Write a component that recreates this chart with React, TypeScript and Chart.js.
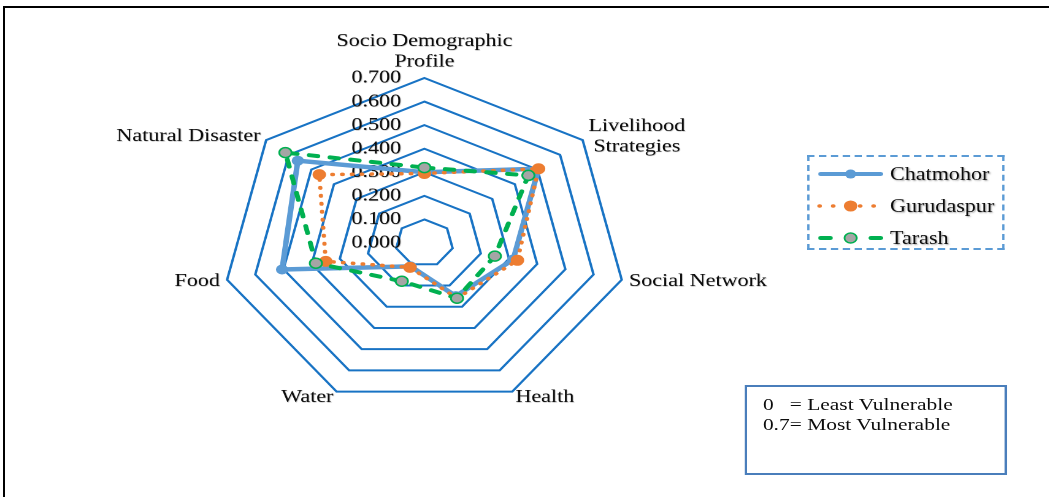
import React, { useEffect, useRef } from 'react';
import { Chart, registerables } from 'chart.js';

Chart.register(...registerables);

// ---- data ----
const CATEGORIES: (string | string[])[] = [
  ['Socio Demographic', 'Profile'],
  ['Livelihood', 'Strategies'],
  'Social Network',
  'Health',
  'Water',
  'Food',
  'Natural Disaster',
];
const SERIES_NAMES = ['Chatmohor', 'Gurudaspur', 'Tarash'];
const CHATMOHOR = [0.3, 0.505, 0.315, 0.25, 0.11, 0.505, 0.56];
const GURUDASPUR = [0.295, 0.505, 0.33, 0.26, 0.115, 0.35, 0.465];
const TARASH = [0.32, 0.46, 0.25, 0.26, 0.18, 0.385, 0.615];
const TICK_LABELS = ['0.000', '0.100', '0.200', '0.300', '0.400', '0.500', '0.600', '0.700'];
const NOTE_LINES = ['0   = Least Vulnerable', '0.7= Most Vulnerable'];

// ---- style ----
const SX = 1.2266; // horizontal stretch of the original figure
const CANVAS_W = 855;
const CANVAS_H = 497;
const FONT = '"Liberation Serif", "Times New Roman", serif';
const GRID_COLOR = '#1873c4';
const COLORS = ['#5B9BD5', '#ED7D31', '#00B050'];
const TEXT_COLOR = '#0d0d0d';
const TEXT_SHADOW = '1px 1px 1.5px rgba(0,0,0,0.35)';

function applyShadow(ctx: CanvasRenderingContext2D) {
  ctx.shadowColor = 'rgba(0,0,0,0.35)';
  ctx.shadowBlur = 1.5;
  ctx.shadowOffsetX = 1;
  ctx.shadowOffsetY = 1;
}

const labelPlugin = {
  id: 'customLabels',
  beforeDatasetsDraw(chart: any) {
    const scale = chart.scales.r;
    const ctx = chart.ctx;
    ctx.save();
    ctx.font = `18px ${FONT}`;
    ctx.fillStyle = TEXT_COLOR;
    ctx.textAlign = 'right';
    ctx.textBaseline = 'middle';
    applyShadow(ctx);
    scale.ticks.forEach((t: any, i: number) => {
      const d = scale.getDistanceFromCenterForValue(t.value);
      const txt = TICK_LABELS[i] ?? Number(t.value).toFixed(3);
      ctx.fillText(txt, scale.xCenter - 19, scale.yCenter - d);
    });
    ctx.restore();
  },
  afterDraw(chart: any) {
    const scale = chart.scales.r;
    const ctx = chart.ctx;
    const lh = 20.5;
    ctx.save();
    ctx.font = `18px ${FONT}`;
    ctx.fillStyle = TEXT_COLOR;
    ctx.textAlign = 'center';
    ctx.textBaseline = 'middle';
    applyShadow(ctx);
    CATEGORIES.forEach((lab, i) => {
      const lines = Array.isArray(lab) ? lab : [lab];
      const pos = scale.getPointPosition(i, scale.drawingArea + 6);
      const dx = pos.x - scale.xCenter;
      const maxW = Math.max(...lines.map((l) => ctx.measureText(l).width));
      let cx: number;
      let y0: number;
      if (Math.abs(dx) < 1) {
        cx = pos.x;
        y0 = pos.y - lines.length * lh + lh / 2;
      } else {
        cx = dx > 0 ? pos.x + maxW / 2 : pos.x - maxW / 2;
        y0 = pos.y - ((lines.length - 1) * lh) / 2;
      }
      lines.forEach((l, k) => ctx.fillText(l, cx, y0 + k * lh));
    });
    ctx.restore();
  },
};

function LegendSample({ idx }: { idx: number }) {
  const c = COLORS[idx];
  if (idx === 0) {
    return (
      <svg width={53} height={14} style={{ overflow: 'visible', display: 'block' }}>
        <line x1={2} y1={7} x2={51} y2={7} stroke={c} strokeWidth={4} strokeLinecap="round" />
        <circle cx={26.5} cy={7} r={4.5} fill={c} />
      </svg>
    );
  }
  if (idx === 1) {
    return (
      <svg width={53} height={14} style={{ overflow: 'visible', display: 'block' }}>
        <line x1={1} y1={7} x2={53} y2={7} stroke={c} strokeWidth={3.5} strokeLinecap="round" strokeDasharray="0.5 10.5" />
        <circle cx={26.5} cy={7} r={5.5} fill={c} />
      </svg>
    );
  }
  return (
    <svg width={53} height={14} style={{ overflow: 'visible', display: 'block' }}>
      <line x1={2} y1={7} x2={51} y2={7} stroke={c} strokeWidth={4} strokeLinecap="round" strokeDasharray="8 33" />
      <circle cx={26.5} cy={7} r={5} fill="#A5A5A5" stroke={c} strokeWidth={1.5} />
    </svg>
  );
}

export default function App() {
  const ref = useRef<HTMLCanvasElement>(null);

  useEffect(() => {
    if (!ref.current) return;
    const chart = new Chart(ref.current, {
      type: 'radar',
      data: {
        labels: CATEGORIES as any,
        datasets: [
          {
            label: SERIES_NAMES[0],
            data: CHATMOHOR,
            borderColor: COLORS[0],
            backgroundColor: COLORS[0],
            borderWidth: 4.5,
            borderJoinStyle: 'round',
            pointRadius: 4.5,
            pointBackgroundColor: COLORS[0],
            pointBorderColor: COLORS[0],
            pointBorderWidth: 1,
            fill: false,
            order: 3,
          },
          {
            label: SERIES_NAMES[1],
            data: GURUDASPUR,
            borderColor: COLORS[1],
            backgroundColor: COLORS[1],
            borderWidth: 3.5,
            borderDash: [0.5, 7.5],
            borderCapStyle: 'round',
            pointRadius: 5,
            pointBackgroundColor: COLORS[1],
            pointBorderColor: COLORS[1],
            pointBorderWidth: 1,
            fill: false,
            order: 2,
          },
          {
            label: SERIES_NAMES[2],
            data: TARASH,
            borderColor: COLORS[2],
            backgroundColor: '#A5A5A5',
            borderWidth: 4,
            borderDash: [7, 10],
            borderCapStyle: 'round',
            pointRadius: 5,
            pointBackgroundColor: '#A5A5A5',
            pointBorderColor: COLORS[2],
            pointBorderWidth: 1.5,
            fill: false,
            order: 1,
          },
        ],
      },
      options: {
        responsive: false,
        animation: false,
        devicePixelRatio: 2,
        layout: { padding: { top: 78, left: 181, right: 343, bottom: 88 } },
        plugins: { legend: { display: false }, tooltip: { enabled: false } },
        elements: { line: { tension: 0 } },
        scales: {
          r: {
            min: 0,
            max: 0.7,
            ticks: { stepSize: 0.1, display: false },
            grid: { circular: false, color: GRID_COLOR, lineWidth: 2 },
            angleLines: { display: false },
            pointLabels: { display: false },
          },
        },
      } as any,
      plugins: [labelPlugin],
    });
    return () => chart.destroy();
  }, []);

  const legendRows = [174, 206, 238];
  const legendLeft = 807 / SX;
  const legendTop = 155;

  return (
    <div style={{ position: 'absolute', left: 0, top: 0, width: 1049, height: 497, background: '#fff', overflow: 'hidden' }}>
      <div
        style={{
          position: 'absolute', left: 3, top: 6, width: 1046, height: 491,
          borderTop: '2px solid #000', borderLeft: '2px solid #000', boxSizing: 'border-box',
        }}
      />
      <div
        style={{
          position: 'absolute', left: 0, top: 0, width: CANVAS_W, height: CANVAS_H,
          transform: `scaleX(${SX})`, transformOrigin: '0 0',
        }}
      >
        <canvas ref={ref} width={CANVAS_W} height={CANVAS_H} style={{ display: 'block' }} />
        {/* legend */}
        <div
          style={{
            position: 'absolute', left: legendLeft, top: legendTop, width: (1004 - 807) / SX, height: 95,
            border: '2px dashed #5B9BD5', boxSizing: 'border-box',
          }}
        />
        {SERIES_NAMES.map((name, i) => (
          <React.Fragment key={name}>
            <div style={{ position: 'absolute', left: 818 / SX, top: legendRows[i] - 7 }}>
              <LegendSample idx={i} />
            </div>
            <div
              style={{
                position: 'absolute', left: 890 / SX, top: legendRows[i] - 10.25, height: 20.5,
                lineHeight: '20.5px', font: `18px ${FONT}`, color: TEXT_COLOR, whiteSpace: 'nowrap',
                textShadow: TEXT_SHADOW,
              }}
            >
              {name}
            </div>
          </React.Fragment>
        ))}
        {/* note box */}
        <div
          style={{
            position: 'absolute', left: 745 / SX, top: 385, width: (1007 - 745) / SX, height: 90,
            border: '2px solid #4A7EBB', boxSizing: 'border-box', padding: '6.75px 0 0 12.6px',
            font: `17.5px ${FONT}`, lineHeight: '20.5px', color: TEXT_COLOR, whiteSpace: 'pre',
          }}
        >
          {NOTE_LINES.map((l) => (
            <div key={l}>{l}</div>
          ))}
        </div>
      </div>
    </div>
  );
}
